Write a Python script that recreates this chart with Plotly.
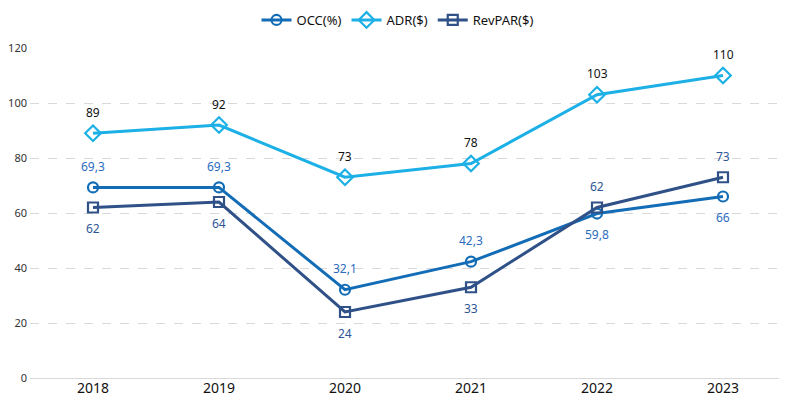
import plotly.graph_objects as go

years = ["2018", "2019", "2020", "2021", "2022", "2023"]
occ = [69.3, 69.3, 32.1, 42.3, 59.8, 66]
adr = [89, 92, 73, 78, 103, 110]
revpar = [62, 64, 24, 33, 62, 73]

# label placement: +1 above the point, -1 below
occ_side = [1, 1, 1, 1, -1, -1]
adr_side = [1, 1, 1, 1, 1, 1]
rev_side = [-1, -1, -1, -1, 1, 1]

def fmt(v):
    s = ("%g" % v)
    return s.replace(".", ",")

font = "Noto Sans"
series = [
    ("OCC(%)", occ, occ_side, "#136db6", "circle-open", 10, "#2b6cc0"),
    ("ADR($)", adr, adr_side, "#1cb0e6", "diamond-open", 12, "#111111"),
    ("RevPAR($)", revpar, rev_side, "#2f5188", "square-open", 10, "#2f5597"),
]

fig = go.Figure()
annotations = []
for name, vals, side, color, sym, msize, tcolor in series:
    fig.add_trace(go.Scatter(
        x=years, y=vals, name=name, mode="lines+markers",
        line=dict(color=color, width=3),
        marker=dict(symbol=sym, size=msize, color=color, line=dict(width=2.2)),
    ))
    for i, (v, s) in enumerate(zip(vals, side)):
        annotations.append(dict(
            x=i, y=v, xref="x", yref="y", text=fmt(v), showarrow=False,
            yshift=21 * s,
            font=dict(color=tcolor, size=12, family=font),
        ))

fig.update_layout(
    width=779, height=400,
    margin=dict(l=22, r=1, t=40, b=30),
    paper_bgcolor="white", plot_bgcolor="white",
    font=dict(family=font, color="#222222"),
    showlegend=True,
    annotations=annotations,
    legend=dict(orientation="h", x=0.5, xanchor="center", xref="container",
                y=0.97, yanchor="middle", yref="container",
                font=dict(size=13, family=font, color="#111111"), itemwidth=30,
                tracegroupgap=0),
    xaxis=dict(type="category", range=[-0.5, 5.5], showgrid=False, zeroline=False,
               showline=False, tickfont=dict(size=14, color="#111111"), ticks=""),
    yaxis=dict(range=[0, 120], dtick=20, showgrid=True, gridcolor="#d9d9d9",
               griddash="dash", zeroline=True, zerolinecolor="#d9d9d9", zerolinewidth=1,
               tickfont=dict(size=11, color="#333333"), ticks="", ticklabelstandoff=2,
               automargin=False),
)
fig.write_html("out.html")
